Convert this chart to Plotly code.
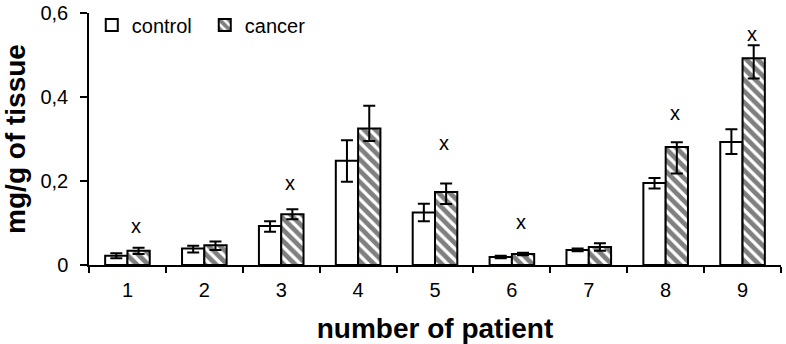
import plotly.graph_objects as go

patients = ["1", "2", "3", "4", "5", "6", "7", "8", "9"]
control = [0.022, 0.039, 0.093, 0.248, 0.125, 0.019, 0.036, 0.195, 0.293]
control_err_plus = [0.006, 0.007, 0.011, 0.049, 0.021, 0.003, 0.003, 0.012, 0.030]
control_err_minus = [0.006, 0.009, 0.014, 0.050, 0.021, 0.003, 0.003, 0.013, 0.029]
cancer = [0.034, 0.047, 0.121, 0.325, 0.174, 0.026, 0.043, 0.281, 0.492]
cancer_err_plus = [0.007, 0.009, 0.012, 0.054, 0.020, 0.003, 0.009, 0.011, 0.031]
cancer_err_minus = [0.008, 0.011, 0.012, 0.030, 0.029, 0.003, 0.009, 0.063, 0.048]
mark_patients = ["1", "3", "5", "6", "8", "9"]
mark_y = [0.093, 0.196, 0.290, 0.103, 0.363, 0.551]
y_ticks = [0, 0.2, 0.4, 0.6]
y_ticktext = ["0", "0,2", "0,4", "0,6"]

FONT = "Liberation Sans, Arial, sans-serif"

fig = go.Figure()
fig.add_trace(go.Bar(
    name="control", x=patients, y=control,
    marker=dict(color="white", line=dict(color="black", width=2)),
    error_y=dict(type="data", symmetric=False, array=control_err_plus,
                 arrayminus=control_err_minus, color="black", thickness=2, width=6),
))
fig.add_trace(go.Bar(
    name="cancer", x=patients, y=cancer,
    marker=dict(color="white", line=dict(color="black", width=2),
                pattern=dict(shape="\\", fgcolor="black", bgcolor="white",
                             size=8, solidity=0.6)),
    error_y=dict(type="data", symmetric=False, array=cancer_err_plus,
                 arrayminus=cancer_err_minus, color="black", thickness=2, width=6),
))

for p, yv in zip(mark_patients, mark_y):
    fig.add_annotation(x=patients.index(p), y=yv, xref="x", yref="y", text="x",
                       showarrow=False, xshift=9, yanchor="middle",
                       font=dict(family=FONT, size=20, color="black"))

fig.update_layout(
    width=786, height=344,
    margin=dict(l=89, r=5, t=13, b=79),
    paper_bgcolor="white", plot_bgcolor="white",
    barmode="group", bargap=0.42, bargroupgap=0,
    font=dict(family=FONT, size=20, color="black"),
    showlegend=True,
    legend=dict(orientation="h", x=0.004, y=1.03, xanchor="left", yanchor="top",
                bgcolor="rgba(0,0,0,0)", font=dict(family=FONT, size=20),
                entrywidth=68, entrywidthmode="pixels", tracegroupgap=0),
    xaxis=dict(
        type="category", range=[-0.5, 8.5], automargin=False,
        showline=True, linecolor="black", linewidth=1.5,
        ticks="outside", tickson="boundaries", ticklen=6, tickcolor="black", tickwidth=1.5,
        ticklabelstandoff=6,
        showgrid=False, zeroline=False,
        tickfont=dict(family=FONT, size=20),
        title=dict(text="<b>number of patient</b>", font=dict(family=FONT, size=28), standoff=32),
    ),
    yaxis=dict(
        range=[0, 0.6], automargin=False,
        tickvals=y_ticks, ticktext=y_ticktext,
        showline=True, linecolor="black", linewidth=1.5,
        ticks="outside", ticklen=7, tickcolor="black", tickwidth=1.5,
        ticklabelstandoff=8,
        showgrid=False, zeroline=False,
        tickfont=dict(family=FONT, size=20),
        title=dict(text="<b>mg/g of tissue</b>", font=dict(family=FONT, size=28), standoff=22),
    ),
)

fig.write_html("out.html",
               config={"displayModeBar": False},
               post_script="document.body.style.margin='0';document.body.style.padding='0';")
